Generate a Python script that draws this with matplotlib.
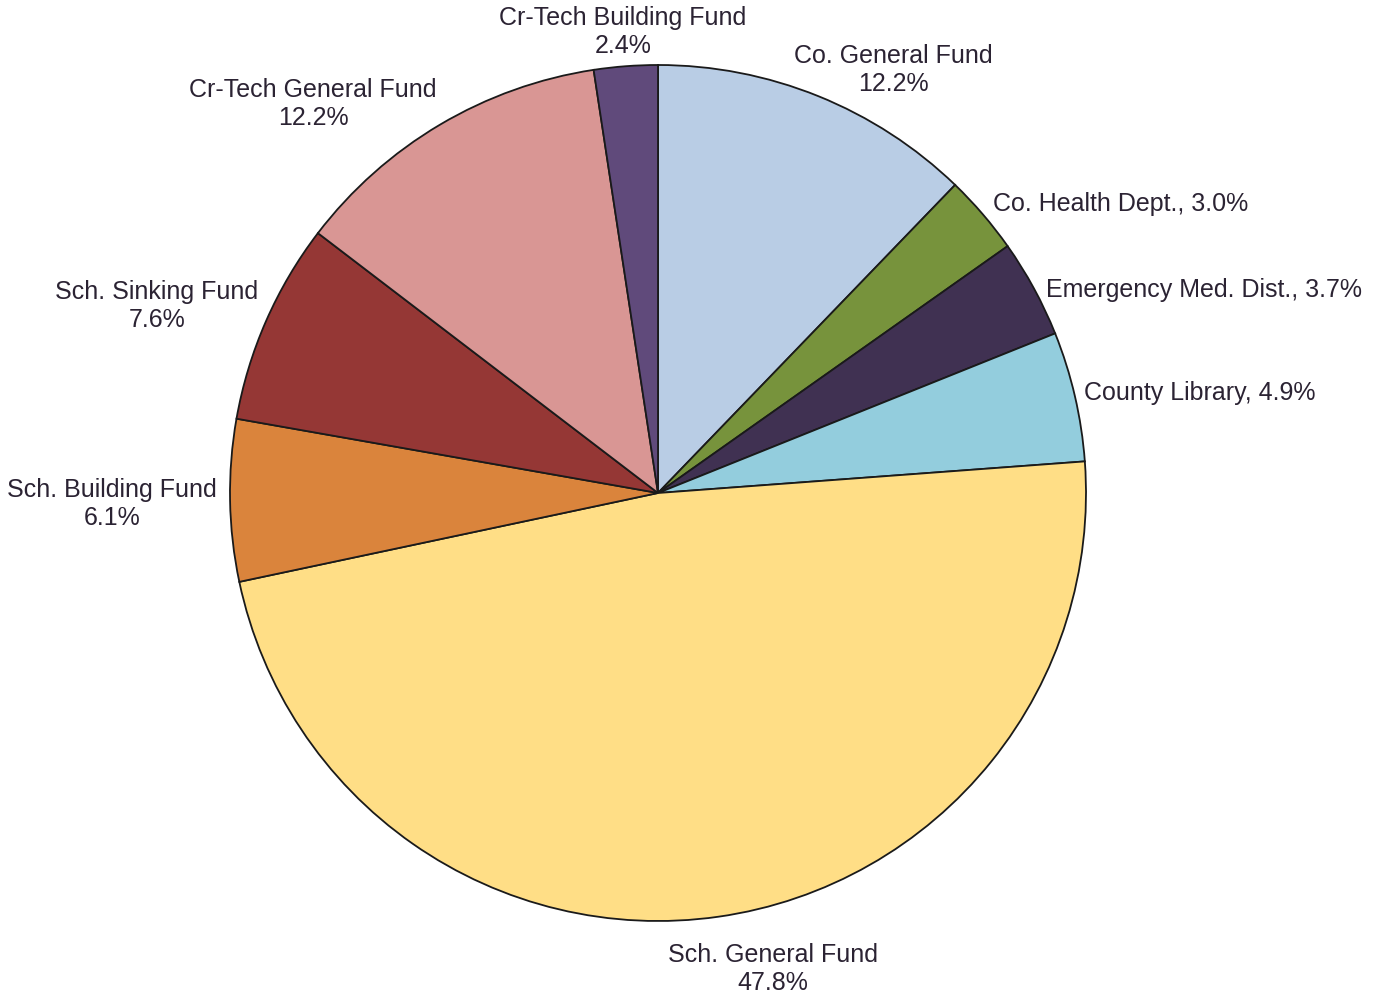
import matplotlib
matplotlib.use("Agg")
import matplotlib.pyplot as plt

categories = ["Co. General Fund", "Co. Health Dept.", "Emergency Med. Dist.",
              "County Library", "Sch. General Fund", "Sch. Building Fund",
              "Sch. Sinking Fund", "Cr-Tech General Fund", "Cr-Tech Building Fund"]
shares = [12.2, 3.0, 3.7, 4.9, 47.8, 6.1, 7.6, 12.2, 2.4]
colors = ["#B9CDE5", "#77933C", "#403152", "#93CDDD", "#FFDE86",
          "#DA843C", "#953735", "#D99694", "#604A7B"]

# label layout: (x px, y px, style) ; style 'c2' = two centered lines, 'l1' = one line left-aligned
label_layout = [(893, 70, "c2"), (993, 204, "l1"), (1046, 290, "l1"),
                (1084, 393, "l1"), (773, 969, "c2"), (112, 504, "c2"),
                (157, 306, "c2"), (313, 104, "c2"), (623, 32, "c2")]

W, H = 1377, 998
fig = plt.figure(figsize=(W / 100, H / 100), dpi=100)
ax = fig.add_axes([0, 0, 1, 1])

cx, cy, R = 658, H - 493, 428
ax.pie(shares, colors=colors, startangle=90, counterclock=False,
       center=(cx, cy), radius=R, frame=True,
       wedgeprops=dict(edgecolor="#1a1a1a", linewidth=1.3))
ax.set_xlim(0, W)
ax.set_ylim(0, H)
ax.set_aspect("equal")
ax.axis("off")

tc = "#2b2333"
fs = 18
for name, v, (x, y, st) in zip(categories, shares, label_layout):
    if st == "c2":
        ax.text(x, H - y, f"{name}\n{v:.1f}%", ha="center", va="center",
                fontsize=fs, color=tc, family="Liberation Sans", linespacing=1.2)
    else:
        ax.text(x, H - y, f"{name}, {v:.1f}%", ha="left", va="center",
                fontsize=fs, color=tc, family="Liberation Sans")

fig.savefig("out.png", dpi=100)
